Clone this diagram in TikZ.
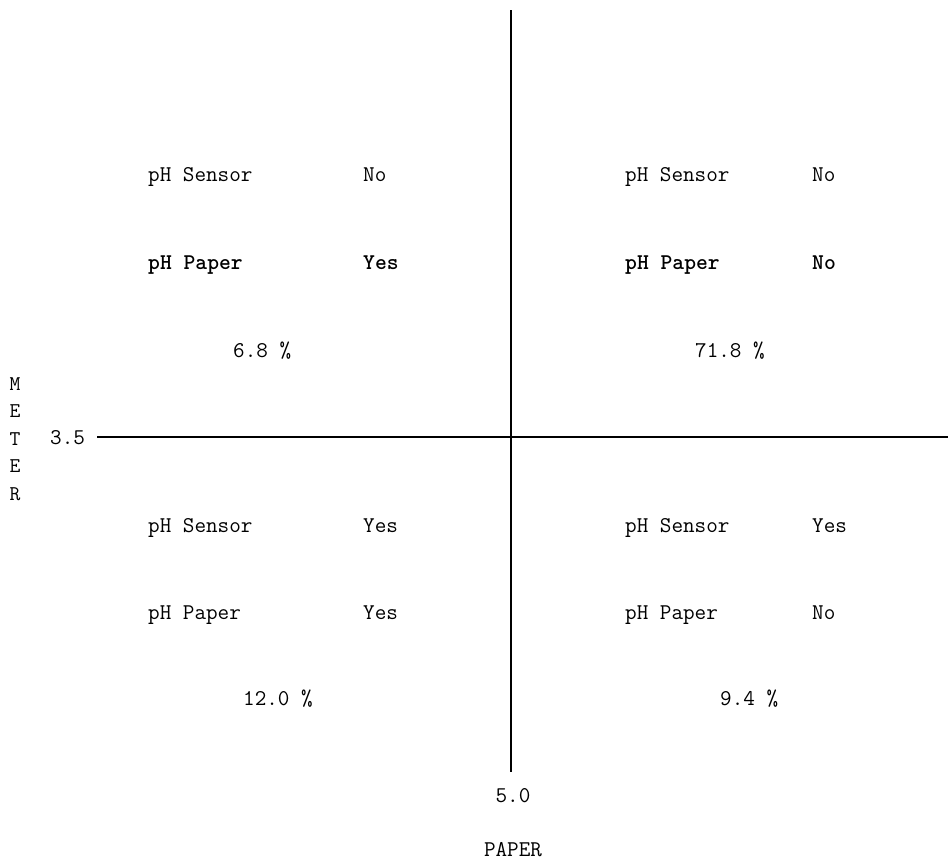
\documentclass[tikz,border=0pt]{standalone}
\usetikzlibrary{positioning}

\begin{document}
\begin{tikzpicture}[
    x=1pt, y=-1pt,
    entry/.style={anchor=base west, inner sep=0pt, font=\fontsize{22.5}{26}\selectfont\ttfamily},
    heavy/.style={entry, font=\fontsize{22.5}{26}\selectfont\ttfamily\bfseries},
    axis/.style={line width=1.4pt}
]
\useasboundingbox (0,0) rectangle (948,862);

% Axes
\coordinate (ytop) at (511,10);
\coordinate (ybot) at (511,772);
\coordinate (xleft) at (97,437);
\coordinate (xright) at (948,437);
\draw[axis] (ytop) -- (ybot);
\draw[axis] (xleft) -- (xright);

% Axis labels
\node[entry] (meter35) at (50,444) {3.5};
\node[entry, anchor=base] (paper50) at (513,802) {5.0};
\node[entry, anchor=base] (paper) at (513,856) {PAPER};
\node[entry, anchor=center, align=center, font=\fontsize{21}{27.5}\selectfont\ttfamily] (meter) at (15,439) {M\\E\\T\\E\\R};

% Upper left
\node[entry] (ulsensor) at (148,181) {pH Sensor};
\node[entry] (ulsensorv) at (363,181) {No};
\node[heavy] (ulpaper) at (148,269) {pH Paper};
\node[heavy] (ulpaperv) at (363,269) {Yes};
\node[entry] (ulpct) at (233,357) {6.8 \%};

% Upper right
\node[entry] (ursensor) at (625,181) {pH Sensor};
\node[entry] (ursensorv) at (812,181) {No};
\node[heavy] (urpaper) at (625,269) {pH Paper};
\node[heavy] (urpaperv) at (812,269) {No};
\node[entry] (urpct) at (695,357) {71.8 \%};

% Lower left
\node[entry] (llsensor) at (148,532) {pH Sensor};
\node[entry] (llsensorv) at (363,532) {Yes};
\node[entry] (llpaper) at (148,619) {pH Paper};
\node[entry] (llpaperv) at (363,619) {Yes};
\node[entry] (llpct) at (243,705) {12.0 \%};

% Lower right
\node[entry] (lrsensor) at (625,532) {pH Sensor};
\node[entry] (lrsensorv) at (812,532) {Yes};
\node[entry] (lrpaper) at (625,619) {pH Paper};
\node[entry] (lrpaperv) at (812,619) {No};
\node[entry] (lrpct) at (720,705) {9.4 \%};

\end{tikzpicture}
\end{document}
